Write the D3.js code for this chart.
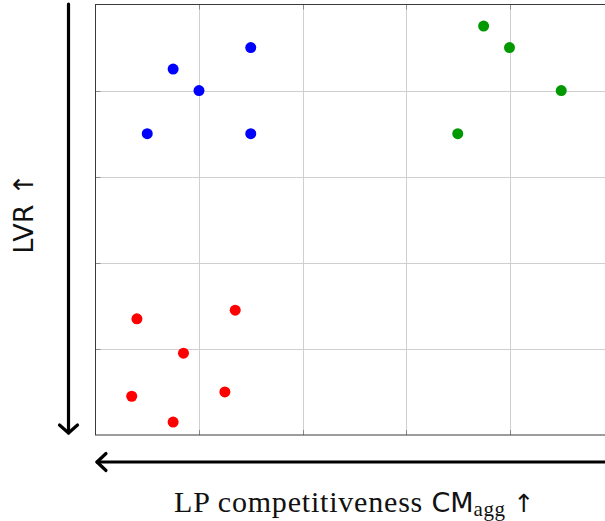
<!DOCTYPE html>
<html>
<head>
<meta charset="utf-8">
<script src="https://cdn.jsdelivr.net/npm/d3@7"></script>
<style>
  body { margin: 0; background: #fff; }
  svg { display: block; }
</style>
</head>
<body>
<svg id="chart" width="605" height="521"></svg>
<script>
// series values (x = LP competitiveness, y = LVR)
const blueX  = [0.75, 1.0, 1.5, 0.5, 1.5];
const blueY  = [4.25, 4.0, 4.5, 3.5, 3.5];
const greenX = [3.75, 4.0, 4.5, 3.5];
const greenY = [4.75, 4.5, 4.0, 3.5];
const redX   = [0.4, 1.35, 0.85, 0.35, 1.25, 0.75];
const redY   = [1.35, 1.45, 0.95, 0.45, 0.5, 0.15];
const gridTicks = [1, 2, 3, 4];

const series = [
    {color: '#0000ff', xs: blueX, ys: blueY},
    {color: '#009900', xs: greenX, ys: greenY},
    {color: '#ff0000', xs: redX, ys: redY}
];

const svg = d3.select('#chart');
const plotL = 95.5, plotT = 4.5, plotB = 435, plotR = 613;

const x = d3.scaleLinear().domain([0, 5]).range([plotL, plotR]);
const y = d3.scaleLinear().domain([0, 5]).range([plotB, plotT]);

// grid
const grid = svg.append('g').attr('stroke', '#cfcfcf').attr('stroke-width', 1);
grid.selectAll('.gx').data(gridTicks).enter().append('line')
    .attr('x1', d => Math.round(x(d)) + 0.5).attr('x2', d => Math.round(x(d)) + 0.5)
    .attr('y1', plotT).attr('y2', plotB);
grid.selectAll('.gy').data(gridTicks).enter().append('line')
    .attr('y1', d => Math.round(y(d)) + 0.5).attr('y2', d => Math.round(y(d)) + 0.5)
    .attr('x1', plotL).attr('x2', plotR);

// tick marks (inside, both sides)
const tk = svg.append('g').attr('stroke', '#8a8a8a').attr('stroke-width', 1);
gridTicks.forEach(d => {
    const px = Math.round(x(d)) + 0.5, py = Math.round(y(d)) + 0.5;
    tk.append('line').attr('x1', px).attr('x2', px).attr('y1', plotB).attr('y2', plotB - 5);
    tk.append('line').attr('x1', px).attr('x2', px).attr('y1', plotT).attr('y2', plotT + 5);
    tk.append('line').attr('y1', py).attr('y2', py).attr('x1', plotL).attr('x2', plotL + 5);
    tk.append('line').attr('y1', py).attr('y2', py).attr('x1', plotR).attr('x2', plotR - 5);
});

// frame
svg.append('rect')
    .attr('x', plotL).attr('y', plotT)
    .attr('width', plotR - plotL).attr('height', plotB - plotT)
    .attr('fill', 'none').attr('stroke', '#3a3a3a').attr('stroke-width', 1);

// points
series.forEach(s => {
    svg.append('g').selectAll('circle').data(s.xs).enter().append('circle')
        .attr('cx', d => x(d))
        .attr('cy', (d, i) => y(s.ys[i]))
        .attr('r', 5.5)
        .attr('fill', s.color);
});

// axis arrows
const arrows = svg.append('g')
    .attr('stroke', '#000').attr('stroke-width', 3.2)
    .attr('fill', 'none').attr('stroke-linecap', 'round').attr('stroke-linejoin', 'round');
const ax = 68.5;
arrows.append('line').attr('x1', ax).attr('x2', ax).attr('y1', 4).attr('y2', 433);
arrows.append('path').attr('d', `M${ax - 9},${425} L${ax},${433} L${ax + 9},${425}`);
const ay = 462;
arrows.append('line').attr('x1', 97).attr('x2', 620).attr('y1', ay).attr('y2', ay);
arrows.append('path').attr('d', `M${106},${ay - 8.5} L${97},${ay} L${106},${ay + 8.5}`);

// axis labels
const xl = svg.append('text')
    .attr('x', 174).attr('y', 512)
    .style('font-family', '"Liberation Serif", serif')
    .style('font-size', '30px')
    .attr('fill', '#111');
xl.append('tspan').text('LP competitiveness ').style('letter-spacing', '0.8px');
xl.append('tspan').text('CM').style('font-family', '"DejaVu Sans", sans-serif').style('font-size', '27px');
xl.append('tspan').text('agg').attr('dy', 4).style('font-size', '21px').style('letter-spacing', '0.6px');
xl.append('tspan').text(' \u2191').attr('dy', -4).style('font-family', '"DejaVu Sans", sans-serif').style('font-size', '25px');

svg.append('text')
    .attr('transform', 'translate(33,213.5) rotate(-90)')
    .attr('text-anchor', 'middle')
    .style('font-family', '"DejaVu Sans", sans-serif')
    .style('font-size', '27px')
    .attr('fill', '#111')
    .text('LVR \u2191');
</script>
</body>
</html>
